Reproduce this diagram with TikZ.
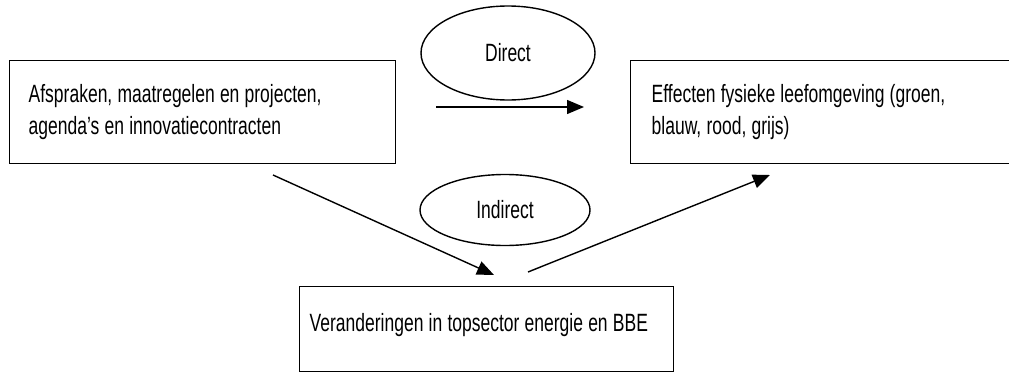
\documentclass[tikz,border=0pt]{standalone}
\usepackage{fontspec}
\setmainfont[FakeStretch=0.7]{Liberation Sans}
\usetikzlibrary{arrows.meta,shapes.geometric}

\begin{document}
\begin{tikzpicture}[x=1pt,y=-1pt,>={Triangle[length=17pt,width=14pt]},
	box/.style={draw, line width=1.4pt, anchor=north west, align=left, inner xsep=19pt, font=\fontsize{25}{32}\selectfont, execute at begin node={\spaceskip=5.2pt\relax}},
	oval/.style={draw, ellipse, line width=1.4pt, inner sep=0pt, font=\fontsize{25}{30}\selectfont},
	arr/.style={->, line width=1.4pt}]
	\useasboundingbox (0,0) rectangle (1009,372);
	\clip (0,0) rectangle (1009,372);
	% boxes
	\node [box, minimum width=386pt, minimum height=103pt, text width=348pt] (maatregelen) at (9,60) {Afspraken, maatregelen en projecten,\\agenda's en innovatiecontracten};
	\node [box, inner xsep=21pt, minimum width=383pt, minimum height=103pt, text width=341pt] (effecten) at (630,60) {Effecten fysieke leefomgeving (groen,\\blauw, rood, grijs)};
	\node [box, inner xsep=10pt, minimum width=374pt, minimum height=85pt, text width=354pt, text depth=14pt] (topsector) at (299,286) {Veranderingen in topsector energie en BBE};
	% ovals
	\node [oval, minimum width=174pt, minimum height=94pt] (direct) at (508,53) {Direct};
	\node [oval, minimum width=170pt, minimum height=71pt] (indirect) at (505,210) {Indirect};
	% arrows
	\coordinate (d1) at (436,107);
	\coordinate (d2) at (584,107);
	\coordinate (l1) at (273,175);
	\coordinate (l2) at (494,275);
	\coordinate (r1) at (528,272);
	\coordinate (r2) at (770,175);
	\draw [arr] (d1) -- (d2);
	\draw [arr] (l1) -- (l2);
	\draw [arr] (r1) -- (r2);
\end{tikzpicture}
\end{document}
